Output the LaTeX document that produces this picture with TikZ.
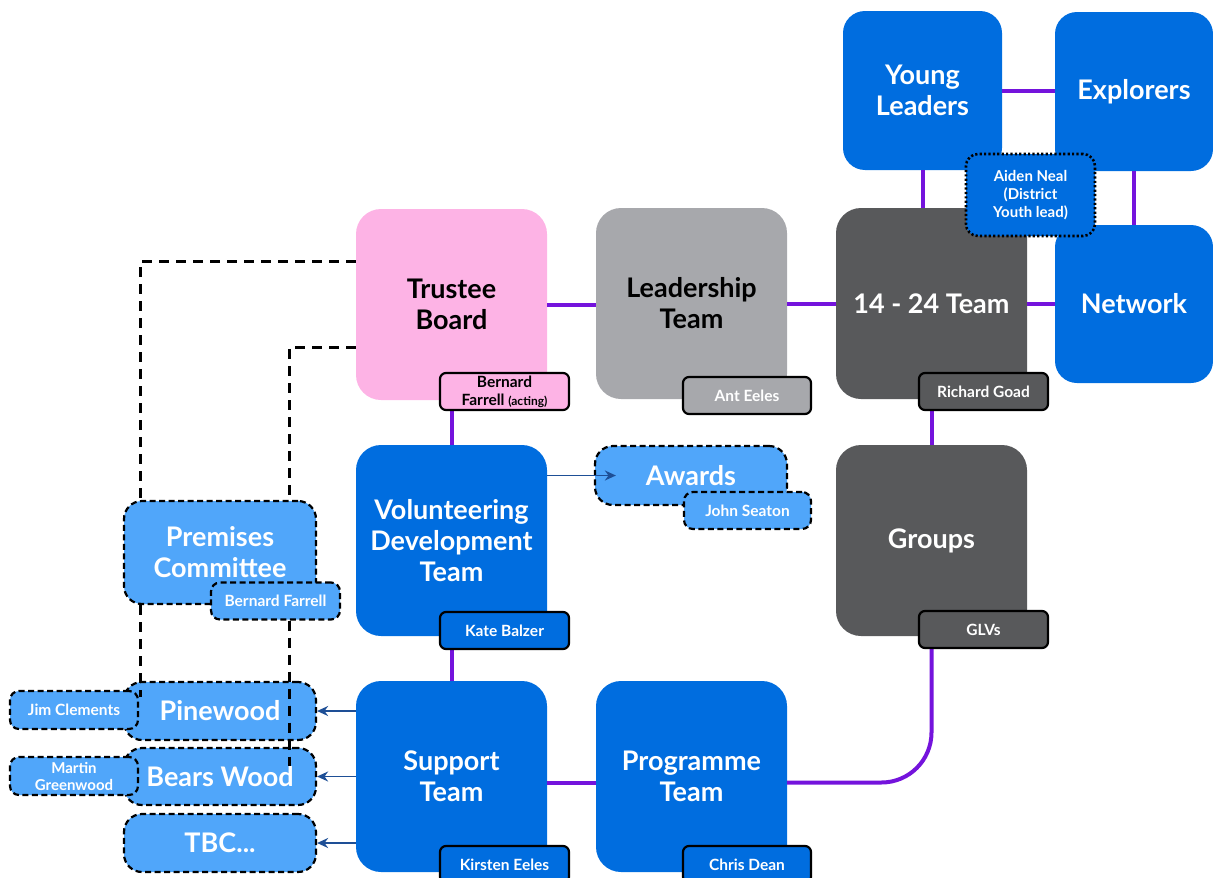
\documentclass[tikz,border=0pt]{standalone}
\usepackage{fontspec}
\setmainfont{Lato}
\usetikzlibrary{arrows.meta,calc}
\definecolor{scpink}{RGB}{253,179,229}
\definecolor{lgray}{RGB}{167,168,172}
\definecolor{dgray}{RGB}{88,89,91}
\definecolor{scblue}{RGB}{0,109,223}
\definecolor{lblue}{RGB}{80,166,250}
\definecolor{scpurple}{RGB}{116,19,220}
\definecolor{arrblue}{RGB}{30,79,150}
\tikzset{
  bigbox/.style={rounded corners=25pt, minimum width=191pt, minimum height=191pt, align=center, inner sep=0pt,
     font=\bfseries\fontsize{27}{31}\selectfont},
  sqbox/.style={rounded corners=22pt, minimum width=159pt, minimum height=159pt, align=center, inner sep=0pt,
     font=\bfseries\fontsize{27}{31}\selectfont, fill=scblue, text=white},
  subbox/.style={rounded corners=18pt, minimum width=192pt, align=center, inner sep=0pt, fill=lblue, text=white,
     draw=black, line width=2.2pt, dash pattern=on 6pt off 3.5pt, font=\bfseries\fontsize{27}{31}\selectfont},
  tag/.style={rounded corners=6pt, minimum width=129pt, minimum height=37pt, align=center, inner sep=0pt,
     draw=black, line width=2.2pt, text=white, font=\bfseries\fontsize{15.5}{18}\selectfont},
  dtag/.style={tag, fill=lblue, dash pattern=on 6pt off 3.5pt, rounded corners=9pt},
  pline/.style={draw=scpurple, line width=4pt},
  dline/.style={draw=black, line width=3pt, dash pattern=on 10pt off 7pt},
  barrow/.style={draw=arrblue, line width=1.8pt, -{Stealth[length=11pt,width=10pt]}}
}
\begin{document}
\begin{tikzpicture}[x=1pt,y=-1pt]
\useasboundingbox (0,0) rectangle (1213,878);
\begin{scope}
\clip (0,0) rectangle (1213,878);
% main boxes
\node[bigbox, fill=scpink, text=black] (trustee) at (451.5,304.5) {Trustee\\Board};
\node[bigbox, fill=lgray, text=black] (leader) at (691.5,303.5) {Leadership\\Team};
\node[bigbox, fill=dgray, text=white] (team) at (931.5,303.5) {14 - 24 Team};
\node[sqbox] (young) at (922.5,90.5) {Young\\Leaders};
\node[sqbox, minimum width=158pt] (explorers) at (1134,91.5) {Explorers};
\node[sqbox, minimum width=158pt, minimum height=158pt] (network) at (1134,304) {Network};
\node[bigbox, fill=scblue, text=white] (volunteer) at (451.5,540.5) {Volunteering\\Development\\Team};
\node[bigbox, fill=dgray, text=white] (groups) at (931.5,540.5) {Groups};
\node[bigbox, fill=scblue, text=white] (support) at (451.5,776.5) {Support\\Team};
\node[bigbox, fill=scblue, text=white] (programme) at (691.5,776.5) {Programme\\Team};

% purple connectors
\draw[pline] (trustee.east) -- (trustee.east -| leader.west);
\draw[pline] (leader.east) -- (leader.east -| team.west);
\draw[pline] (team.east) -- (team.east -| network.west);
\draw[pline] (young.east) -- (young.east -| explorers.west);
\draw[pline] (young.south) -- (young.south |- team.north);
\draw[pline] (explorers.south) -- (explorers.south |- network.north);
\draw[pline] (trustee.south) -- (volunteer.north);
\draw[pline] (volunteer.south) -- (support.north);
\draw[pline] (team.south) -- (groups.north);
\draw[pline] ([yshift=-6pt]support.east) -- ([yshift=-6pt]programme.west);
\draw[pline, rounded corners=50pt] ([yshift=-6pt]programme.east) -| (groups.south);

% premises and dashed lines from trustee
\node[subbox, minimum height=103pt] (premises) at (220,552.5) {Premises\\Committee};
\draw[dline] ([yshift=43.5pt]trustee.west) -| ([xshift=18pt]premises.north west);
\draw[dline] ([yshift=-42.5pt]trustee.west) -| ([xshift=167pt]premises.north west);
\node[dtag] (bernardB) at (275.5,601) {Bernard Farrell};

% sub boxes
\node[subbox, minimum height=59pt] (awards) at (691,475.5) {Awards};
\node[dtag, minimum width=127pt] (john) at (747.5,510.5) {John Seaton};
\node[subbox, minimum height=58pt] (pinewood) at (220,711) {Pinewood};
\node[subbox, minimum height=57pt] (bears) at (220,776.5) {Bears Wood};
\node[subbox, minimum height=58pt] (tbc) at (220,843) {TBC...};
\node[dtag, minimum width=128pt, minimum height=38pt] (jim) at (74,710) {Jim Clements};
\node[dtag, minimum width=128pt, minimum height=38pt, font=\bfseries\fontsize{15}{17}\selectfont] (martin) at (74,776) {Martin\\Greenwood};

% dashed lines premises -> sites
\draw[dline] ([xshift=18pt]premises.south west) -- ([xshift=18pt,yshift=-16pt]pinewood.north west);
\draw[dline] ([xshift=80pt]bernardB.south west) -- ([xshift=167pt,yshift=-19pt]bears.north west);

% tags
\node[tag, fill=dgray] (richard) at (983.5,391.5) {Richard Goad};
\node[tag, fill=lgray, minimum width=128pt] (ant) at (747,395.5) {Ant Eeles};
\node[tag, fill=scpink, text=black] (bernardA) at (504.5,391.5) {Bernard\\Farrell {\fontsize{12}{14}\selectfont(acting)}};
\node[tag, fill=scblue] (kate) at (504.5,630.5) {Kate Balzer};
\node[tag, fill=dgray] (glvs) at (983.5,629.5) {GLVs};
\node[tag, fill=scblue] (kirsten) at (504.5,864.5) {Kirsten Eeles};
\node[tag, fill=scblue, minimum width=128pt] (chris) at (747,864.5) {Chris Dean};
\node[tag, fill=scblue, minimum height=82pt, rounded corners=12pt, dash pattern=on 2.2pt off 2.2pt, line width=2.6pt,
   font=\bfseries\fontsize{15}{18}\selectfont] (aiden) at (1030.5,195) {Aiden Neal\\(District\\Youth lead)};

% blue arrows
\draw[barrow, shorten >=-22pt] (volunteer.east |- awards.west) -- (awards.west);
\draw[barrow] (support.west |- pinewood.east) -- (pinewood.east);
\draw[barrow] (support.west |- bears.east) -- (bears.east);
\draw[barrow] (support.west |- tbc.east) -- (tbc.east);
\end{scope}
\end{tikzpicture}
\end{document}
